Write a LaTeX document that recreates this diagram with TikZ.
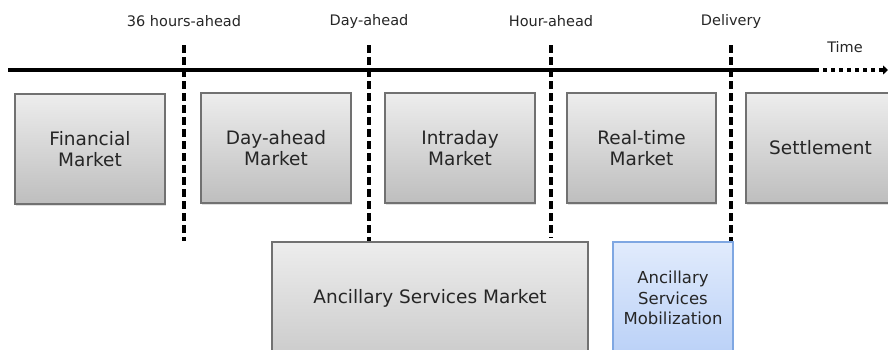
\documentclass[tikz,border=0pt]{standalone}
\usepackage{fontspec}
\setmainfont{DejaVu Sans}
\usetikzlibrary{arrows.meta,shadows}

\definecolor{boxtop}{HTML}{EDEDED}
\definecolor{boxbot}{HTML}{BEBEBE}
\definecolor{boxline}{HTML}{717171}
\definecolor{bluetop}{HTML}{E1EBFC}
\definecolor{bluebot}{HTML}{AAC6F5}
\definecolor{blueline}{HTML}{7FA7E2}
\definecolor{txt}{HTML}{262626}

\tikzset{
  market/.style={draw=boxline, line width=1.2pt, top color=boxtop, bottom color=boxbot,
                 text=txt, align=center, inner sep=0pt,
                 drop shadow={opacity=0.25, shadow xshift=1pt, shadow yshift=-1.5pt},
                 font=\fontsize{18.5}{21.5}\selectfont},
  service/.style={market, draw=blueline, top color=bluetop, bottom color=bluebot},
  gate/.style={line width=4.2pt, dash pattern=on 8pt off 4pt},
  stamp/.style={text=txt, font=\fontsize{14.5}{17}\selectfont}
}

\begin{document}
\begin{tikzpicture}[x=1pt, y=-1pt]
  \useasboundingbox (0,0) rectangle (888,349);
  \clip (0,0) rectangle (888,349);

  % time axis
  \coordinate (t0) at (8,70);
  \coordinate (t1) at (815,70);
  \coordinate (t2) at (888,70);
  \draw[line width=4pt] (t0) -- (t1);
  \draw[line width=4pt, dash pattern=on 4pt off 4pt, -{Triangle[length=5pt,width=9pt]}]
       (t1) -- (t2);
  \node[stamp] (time) at (845,47) {Time};

  % gate closures
  \node[stamp] (h36) at (184,21) {36 hours-ahead};
  \node[stamp] (dah) at (369,21) {Day-ahead};
  \node[stamp] (hah) at (551,21) {Hour-ahead};
  \node[stamp] (del) at (731,21) {Delivery};

  \coordinate (g1a) at (184,45);  \coordinate (g1b) at (184,241);
  \coordinate (g2a) at (369,45);  \coordinate (g2b) at (369,241);
  \coordinate (g3a) at (551,45);  \coordinate (g3b) at (551,238);
  \coordinate (g4a) at (731,45);  \coordinate (g4b) at (731,241);
  \draw[gate] (g1a) -- (g1b);
  \draw[gate] (g2a) -- (g2b);
  \draw[gate] (g3a) -- (g3b);
  \draw[gate] (g4a) -- (g4b);

  % markets
  \node[market, minimum width=150pt, minimum height=110pt] (fin) at (90,149)
       {Financial\\Market};
  \node[market, minimum width=150pt, minimum height=110pt] (da) at (276,148)
       {Day-ahead\\Market};
  \node[market, minimum width=150pt, minimum height=110pt] (intra) at (460,148)
       {Intraday\\Market};
  \node[market, minimum width=149pt, minimum height=110pt] (rt) at (641.5,148)
       {Real-time\\Market};
  \node[market, minimum width=149pt, minimum height=110pt] (settle) at (820.5,148)
       {Settlement};

  % ancillary services
  \node[market, minimum width=316pt, minimum height=160pt] (asm) at (430,322)
       {};
  \node[text=txt, font=\fontsize{18.5}{21.5}\selectfont] (asmtxt) at (430,298)
       {Ancillary Services Market};
  \node[service, minimum width=120pt, minimum height=160pt] (asmob) at (673,322)
       {};
  \node[text=txt, align=center, font=\fontsize{16.5}{20.5}\selectfont] (asmobtxt) at (673,298)
       {Ancillary\\Services\\Mobilization};

\end{tikzpicture}
\end{document}
